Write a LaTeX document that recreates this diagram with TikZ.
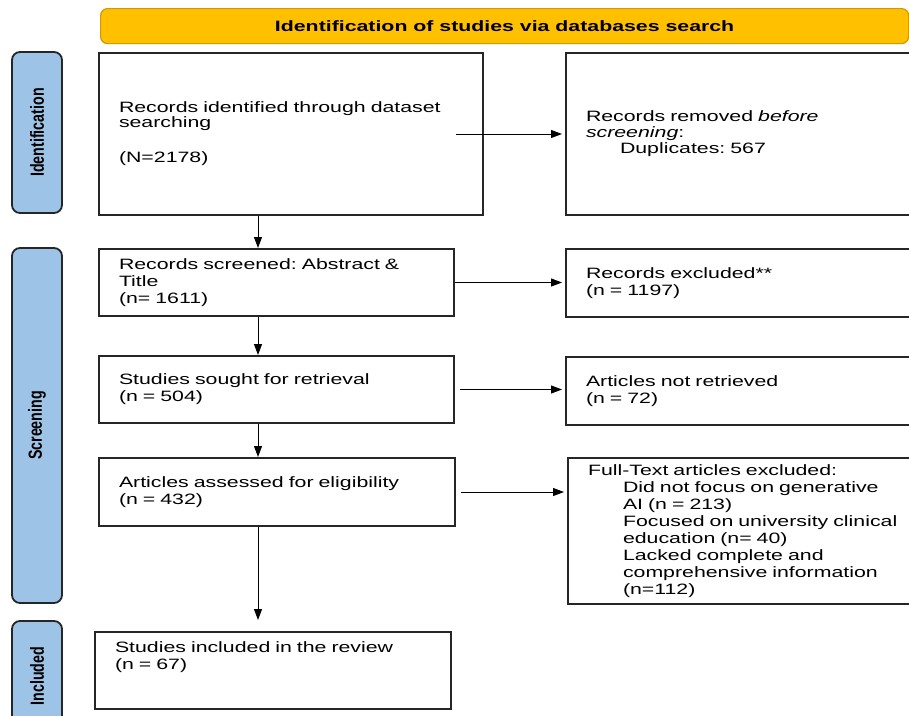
\documentclass[tikz,border=0pt]{standalone}
\usepackage{fontspec}
\usetikzlibrary{arrows.meta}
\newfontfamily\boxfont[FakeStretch=1.42]{Liberation Sans}
\newfontfamily\phasefont[FakeStretch=0.75]{Liberation Sans}
\definecolor{headgold}{HTML}{FFC000}
\definecolor{headline}{HTML}{D09A00}
\definecolor{phaseblue}{HTML}{9DC3E6}
\newcommand{\ind}{\hspace*{35pt}}
\frenchspacing
\begin{document}
\begin{tikzpicture}[>={Triangle[length=11pt,width=8pt]}, x=1pt, y=-1pt,
    box/.style={draw=black!85, line width=2pt, fill=white, anchor=north west, align=left,
        inner xsep=20pt, inner ysep=0pt, font=\boxfont\fontsize{15}{17}\selectfont},
    phase/.style={draw=black!85, line width=1.8pt, fill=phaseblue, rounded corners=8pt, rotate=90,
        minimum height=50pt, inner sep=0pt, font=\phasefont\bfseries\fontsize{19}{19}\selectfont},
    head/.style={draw=headline, line width=1.2pt, fill=headgold, rounded corners=7pt, anchor=north west,
        minimum height=35pt, inner sep=0pt, font=\boxfont\bfseries\fontsize{15}{17}\selectfont},
    flow/.style={->, line width=1pt, black}]
    \useasboundingbox (0,0) rectangle (909,715);
    \clip (0,0) rectangle (909,715);
    % banner and phases
    \node[head, minimum width=808pt] (hdr) at (100,8) {Identification of studies via databases search};
    \node[phase, minimum width=161pt] (pid) at (37,132.5) {Identification};
    \node[phase, minimum width=355pt] (pscr) at (37,425.5) {Screening};
    \node[phase, minimum width=110pt] (pinc) at (37,676) {Included};
    % left column
    \node[box, minimum width=384pt, minimum height=162pt, text width=344pt] (ident) at (98,52)
        {Records identified through dataset\\[-2pt]searching\\[18pt](N=2178)};
    \node[box, minimum width=355pt, minimum height=67pt, text width=315pt] (scr) at (98,248)
        {Records screened: Abstract \&\\Title\\(n= 1611)};
    \node[box, minimum width=355pt, minimum height=67pt, text width=315pt] (ret) at (98,355)
        {Studies sought for retrieval\\(n = 504)};
    \node[box, minimum width=356pt, minimum height=68pt, text width=316pt] (elig) at (98,457)
        {Articles assessed for eligibility\\(n = 432)};
    \node[box, minimum width=356pt, minimum height=77pt, text width=316pt] (incl) at (94,631)
        {Studies included in the review\\(n = 67)\\[7pt]\strut};
    % right column
    \node[box, minimum width=380pt, minimum height=162pt, text width=340pt] (rem) at (565,52)
        {Records removed \textit{before}\\[-1pt]\textit{screening}:\\[-1pt]\hspace*{34pt}Duplicates: 567};
    \node[box, minimum width=380pt, minimum height=68pt, text width=340pt] (excl) at (565,248)
        {Records excluded**\\(n = 1197)};
    \node[box, minimum width=380pt, minimum height=68pt, text width=340pt] (notret) at (565,356)
        {Articles not retrieved\\(n = 72)};
    \node[box, minimum width=380pt, minimum height=146pt, text width=340pt] (ftexcl) at (567,457)
        {Full-Text articles excluded:\\\ind Did not focus on generative\\\ind AI (n = 213)\\
         \ind Focused on university clinical\\\ind education (n= 40)\\\ind Lacked complete and\\
         \ind comprehensive information\\\ind (n=112)};
    % connectors
    \coordinate (spine) at (258,0);
    \draw[flow] (ident.south -| spine) -- (scr.north -| spine);
    \draw[flow] (scr.south -| spine) -- (ret.north -| spine);
    \draw[flow] (ret.south -| spine) -- (elig.north -| spine);
    \draw[flow, shorten >=11pt] (elig.south -| spine) -- (incl.north -| spine);
    \draw[flow, shorten >=3pt] ([xshift=-28pt]ident.east) -- (rem.west);
    \draw[flow, shorten >=3pt] (scr.east) -- (scr.east -| excl.west);
    \draw[flow, shorten >=3pt] ([xshift=5pt]ret.east) -- (ret.east -| notret.west);
    \draw[flow, shorten >=3pt] ([xshift=5pt]elig.east) -- (elig.east -| ftexcl.west);
\end{tikzpicture}
\end{document}
